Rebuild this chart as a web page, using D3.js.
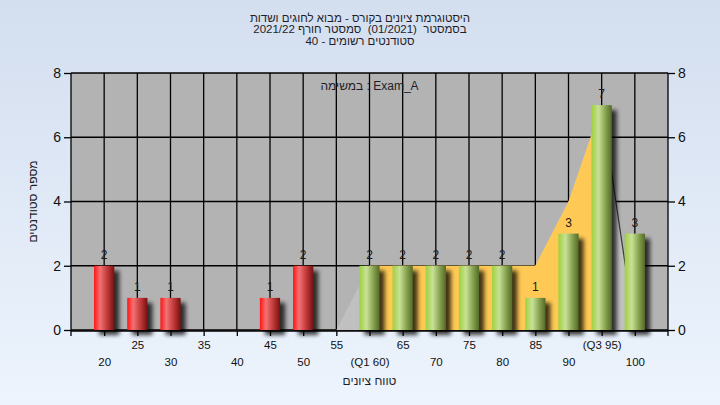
<!DOCTYPE html>
<html><head><meta charset="utf-8">
<script src="https://cdn.jsdelivr.net/npm/d3@7"></script>
<style>
html,body{margin:0;padding:0;background:#e0e9f6;}
text{font-family:"Liberation Sans",Arial,sans-serif;}
</style></head>
<body>
<svg id="chart" width="720" height="405"></svg>
<script>
// ---- data ----
const categories = [20,25,30,35,40,45,50,55,60,65,70,75,80,85,90,95,100];
const tickLabels = ["20","25","30","35","40","45","50","55","(Q1 60)","65","70","75","80","85","90","(Q3 95)","100"];
const counts     = [2,1,1,0,0,1,2,0,2,2,2,2,2,1,3,7,3];
const areaCats   = [55,60,65,70,75,80,85,90,95,100];
const areaValues = [0,2,2,2,2,2,2,4,7,0];
const q1 = 60, q3 = 95;
const failBelow = 55;
const yTicks = [0,2,4,6,8];
const titleLines = ["היסטוגרמת ציונים בקורס - מבוא לחוגים ושדות",
                    "בסמסטר  (01/2021)  סמסטר חורף 2021/22",
                    "סטודנטים רשומים - 40"];
const taskLabel = "Exam_A : במשימה";
const xTitle = "טווח ציונים";
const yTitle = "מספר סטודנטים";

// ---- layout ----
const svg = d3.select("#chart");
const L = 71, R = 668, T = 73, B = 330;
const x = d3.scalePoint().domain(categories).range([L, R]).padding(1);
const y = d3.scaleLinear().domain([0, 8]).range([B, T]);
const step = x.step();
const bw = step * 0.61;

const defs = svg.append("defs");
const bg = defs.append("linearGradient").attr("id","bg").attr("x1",0).attr("y1",0).attr("x2",0).attr("y2",1);
bg.append("stop").attr("offset","0%").attr("stop-color","#d3deef");
bg.append("stop").attr("offset","100%").attr("stop-color","#edf4fd");
function barGrad(id, stops){
  const g = defs.append("linearGradient").attr("id",id).attr("x1",0).attr("y1",0).attr("x2",1).attr("y2",0);
  stops.forEach(s => g.append("stop").attr("offset",s[0]).attr("stop-color",s[1]));
}
barGrad("red", [["0%","#ff1414"],["30%","#f27272"],["65%","#c23a3a"],["100%","#761010"]]);
barGrad("green", [["0%","#9fd03e"],["35%","#c8e196"],["70%","#86a14e"],["100%","#536a28"]]);
const f = defs.append("filter").attr("id","shadow").attr("x","-50%").attr("y","-50%").attr("width","200%").attr("height","200%");
f.append("feGaussianBlur").attr("stdDeviation",2);
const clip = defs.append("clipPath").attr("id","iqr");
clip.append("rect").attr("x",x(q1)).attr("y",T).attr("width",x(q3)-x(q1)).attr("height",B-T);

svg.append("rect").attr("width",720).attr("height",405).attr("fill","url(#bg)");

// plot area
svg.append("rect").attr("x",L).attr("y",T).attr("width",R-L).attr("height",B-T).attr("fill","#b3b3b3");

// gridlines
const grid = svg.append("g").attr("stroke","#000").attr("stroke-width",1.3);
yTicks.forEach(t => grid.append("line").attr("x1",L).attr("x2",R).attr("y1",y(t)).attr("y2",y(t)));
categories.forEach(c => grid.append("line").attr("x1",x(c)).attr("x2",x(c)).attr("y1",T).attr("y2",B));

// area
const areaData = areaCats.map((c,i)=>({c, v: areaValues[i]}));
const area = d3.area().x(d=>x(d.c)).y0(B).y1(d=>y(d.v));
svg.append("path").datum(areaData).attr("d",area).attr("fill","#c0c0c0");
svg.append("path").datum(areaData).attr("d",area).attr("fill","#fec955").attr("clip-path","url(#iqr)");
const tail = areaData.filter(d => d.c >= q3);
svg.append("path").datum(tail).attr("d", d3.line().x(d=>x(d.c)).y(d=>y(d.v)))
  .attr("fill","none").attr("stroke","#3a3a3a").attr("stroke-width",1.2);

// bars
const barData = categories.map((c,i)=>({c, v: counts[i]})).filter(d=>d.v>0);
const bars = svg.append("g");
bars.selectAll("rect.sh").data(barData).join("rect").attr("class","sh")
  .attr("x",d=>x(d.c)-bw/2+5).attr("y",d=>y(d.v)+5).attr("width",bw).attr("height",d=>B-y(d.v))
  .attr("fill","#000").attr("opacity",0.75).attr("filter","url(#shadow)");
bars.selectAll("rect.b").data(barData).join("rect").attr("class","b")
  .attr("x",d=>x(d.c)-bw/2).attr("y",d=>y(d.v)).attr("width",bw).attr("height",d=>B-y(d.v))
  .attr("fill",d=> d.c < failBelow ? "url(#red)" : "url(#green)");
bars.selectAll("text").data(barData).join("text")
  .attr("x",d=>x(d.c)).attr("y",d=>y(d.v)-7).attr("text-anchor","middle")
  .attr("font-size",12).attr("fill","#1a1a1a").text(d=>d.v);

// axes
const axL = svg.append("g").attr("transform",`translate(${L},0)`)
  .call(d3.axisLeft(y).tickValues(yTicks).tickSize(7).tickSizeOuter(0).tickPadding(3));
const axR = svg.append("g").attr("transform",`translate(${R},0)`)
  .call(d3.axisRight(y).tickValues(yTicks).tickSize(7).tickSizeOuter(0).tickPadding(3));
[axL, axR].forEach(a => {
  a.select(".domain").attr("d", `M0,${T}V${B+6}`).attr("stroke","#000").attr("stroke-width",1.3);
  a.selectAll("line").attr("stroke","#000").attr("stroke-width",1.3);
  a.selectAll("text").attr("font-size",14).attr("fill","#111").attr("font-family","Liberation Sans, Arial");
});
const axB = svg.append("g").attr("transform",`translate(0,${B+1})`)
  .call(d3.axisBottom(x).tickSize(5).tickSizeOuter(0).tickFormat((d,i)=>tickLabels[i]));
axB.select(".domain").attr("d", `M${L},0H${R}`).attr("stroke","#000").attr("stroke-width",1.3);
axB.selectAll("line").attr("stroke","#000").attr("stroke-width",1.3);
axB.selectAll("text").attr("font-size",11.5).attr("fill","#111").attr("font-family","Liberation Sans, Arial")
  .attr("dy",null).attr("y",(d,i)=> i%2===1 ? 18 : 35);

// titles
titleLines.forEach((t,i)=> svg.append("text").attr("x",360).attr("y",21.5+i*11.5)
  .attr("text-anchor","middle").attr("direction","rtl").style("white-space","pre")
  .attr("font-size",11.5).attr("fill","#1e1e2a").text(t));
svg.append("text").attr("x",(L+R)/2).attr("y",90).attr("text-anchor","middle").attr("direction","rtl")
  .attr("font-size",12).attr("fill","#1e1e2a").text(taskLabel);
svg.append("text").attr("x",(L+R)/2).attr("y",385).attr("text-anchor","middle").attr("direction","rtl")
  .attr("font-size",12).attr("fill","#1e1e2a").text(xTitle);
svg.append("text").attr("transform",`translate(37,${(T+B)/2}) rotate(-90)`).attr("text-anchor","middle")
  .attr("direction","rtl").attr("font-size",12).attr("fill","#1e1e2a").text(yTitle);
</script>
</body></html>
